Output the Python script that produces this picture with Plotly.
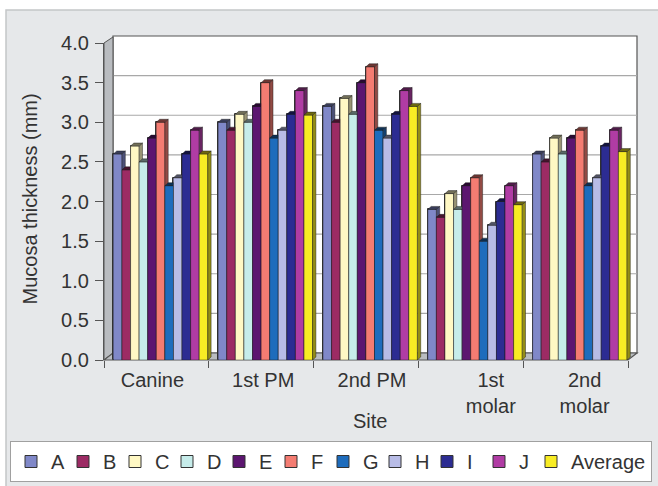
import plotly.graph_objects as go

# ---------------- data ----------------
SITES = ["Canine", "1st PM", "2nd PM", "1st<br>molar", "2nd<br>molar"]
SERIES = ["A", "B", "C", "D", "E", "F", "G", "H", "I", "J", "Average"]
A = [2.6, 3.0, 3.2, 1.9, 2.6]
B = [2.4, 2.9, 3.0, 1.8, 2.5]
C = [2.7, 3.1, 3.3, 2.1, 2.8]
D = [2.5, 3.0, 3.1, 1.9, 2.6]
E = [2.8, 3.2, 3.5, 2.2, 2.8]
F = [3.0, 3.5, 3.7, 2.3, 2.9]
G = [2.2, 2.8, 2.9, 1.5, 2.2]
H = [2.3, 2.9, 2.8, 1.7, 2.3]
I = [2.6, 3.1, 3.1, 2.0, 2.7]
J = [2.9, 3.4, 3.4, 2.2, 2.9]
AVERAGE = [2.6, 3.09, 3.2, 1.96, 2.63]
VALUES = [A, B, C, D, E, F, G, H, I, J, AVERAGE]
Y_TICKS = [0.0, 0.5, 1.0, 1.5, 2.0, 2.5, 3.0, 3.5, 4.0]

COLORS = ["#8088c8", "#9c2b64", "#fff8c4", "#c6ecea", "#5c1670", "#f47c72",
          "#1e6cbc", "#b8bce6", "#2c2c92", "#b03ca4", "#f8ec24"]

# ---------------- layout geometry (pixels) ----------------
W_FIG, H_FIG = 658, 486
ML, MR, MT, MB = 104, 6, 43, 126
PW = W_FIG - ML - MR             # full plot-area width
PH = H_FIG - MT - MB
FRONT_W = 524                    # width of the category axis (front edge)
N_CAT = len(SITES)
PX_PER_X = FRONT_W / N_CAT
X_RANGE = [-0.5, -0.5 + PW / PX_PER_X]
Y_RANGE = [0, 4]
PX_PER_Y = PH / (Y_RANGE[1] - Y_RANGE[0])

BAR_W = 8.58 / PX_PER_X          # bar width in category units
GROUP_START = 0.09               # first bar offset from category edge
DX = 3.3 / PX_PER_X              # bar depth (x)
DY = 3.0 / PX_PER_Y              # bar depth (y)
WALL_DX, WALL_DY = 9, 7          # chart depth in px
LABEL_SHIFT_PX = [-4, 2, 6, 20, 9]
LEGEND_ENTRY_W = 7
LEGEND_LAST_W = 75

FONT = "Liberation Sans, Arial, sans-serif"
TXT = "#333333"
AX = "#555555"


def px(x):
    return (x - ML) / PW


def py(y):
    return (H_FIG - MB - y) / PH


def shade(hex_color, f):
    h = hex_color.lstrip("#")
    r, g, b = (int(h[k:k + 2], 16) for k in (0, 2, 4))
    return "rgb(%d,%d,%d)" % (r * f, g * f, b * f)


fig = go.Figure()

# legend carriers (real bars, covered by the 3D faces below)
for j, (name, vals) in enumerate(zip(SERIES, VALUES)):
    xs = [i - 0.5 + GROUP_START + (j + 0.5) * BAR_W for i in range(N_CAT)]
    fig.add_trace(go.Bar(
        x=xs, y=vals, width=BAR_W, name=name,
        marker=dict(color=COLORS[j], line=dict(color="#333333", width=1)),
        legendwidth=(LEGEND_LAST_W if j == len(SERIES) - 1 else LEGEND_ENTRY_W),
        hoverinfo="skip"))

# 3D faces
for j, (name, vals) in enumerate(zip(SERIES, VALUES)):
    fx, fy, cx, cy, sx, sy = [], [], [], [], [], []
    for i, v in enumerate(vals):
        L = i - 0.5 + GROUP_START + j * BAR_W
        R = L + BAR_W
        fx += [L, L, R, R, L, None]
        fy += [0, v, v, 0, 0, None]
        cx += [L, L + DX, R + DX, R, L, None]
        cy += [v, v + DY, v + DY, v, v, None]
        sx += [R, R + DX, R + DX, R, R, None]
        sy += [0, DY, v + DY, v, 0, None]
    for xx, yy, col in ((fx, fy, COLORS[j]),
                        (sx, sy, shade(COLORS[j], 0.6)),
                        (cx, cy, shade(COLORS[j], 0.45))):
        fig.add_trace(go.Scatter(
            x=xx, y=yy, mode="lines", fill="toself", fillcolor=col,
            line=dict(color="rgba(30,30,30,0.75)", width=0.6),
            showlegend=False, hoverinfo="skip", cliponaxis=False))

# ---------------- decoration shapes ----------------
x_front0, x_front1 = ML, ML + FRONT_W
y_front = H_FIG - MB
x_back0, x_back1 = x_front0 + WALL_DX, x_front1 + WALL_DX
y_back0 = y_front - WALL_DY

shapes = []
# outer frame
shapes.append(dict(type="rect", xref="paper", yref="paper", layer="below",
                   x0=px(6), x1=px(720), y0=py(10), y1=py(520),
                   fillcolor="#e6e8ea", line=dict(color="#c4c6c8", width=1.5)))
# back wall
shapes.append(dict(type="rect", xref="paper", yref="paper", layer="below",
                   x0=px(x_back0), x1=px(x_back1),
                   y0=py(y_back0), y1=py(y_back0 - 4 * PX_PER_Y),
                   fillcolor="white", line=dict(color="#555555", width=1.2)))
for t in Y_TICKS[1:-1]:
    yy = y_back0 - t * PX_PER_Y
    shapes.append(dict(type="line", xref="paper", yref="paper", layer="below",
                       x0=px(x_back0), x1=px(x_back1), y0=py(yy), y1=py(yy),
                       line=dict(color="#a8a8a8", width=1.2)))
# left wall
shapes.append(dict(type="path", xref="paper", yref="paper", layer="below",
                   path="M %f,%f L %f,%f L %f,%f L %f,%f Z" % (
                       px(x_front0), py(y_front), px(x_front0), py(MT),
                       px(x_back0), py(MT - WALL_DY + 1), px(x_back0), py(y_back0)),
                   fillcolor="#b9bcc0", line=dict(color="#555555", width=1)))
# floor (its front edge is the category axis line)
shapes.append(dict(type="path", xref="paper", yref="paper", layer="below",
                   path="M %f,%f L %f,%f L %f,%f L %f,%f Z" % (
                       px(x_front0), py(y_front), px(x_front1), py(y_front),
                       px(x_back1), py(y_back0), px(x_back0), py(y_back0)),
                   fillcolor="#b9bcc0", line=dict(color="#555555", width=1.2)))

annotations = [
    dict(text="Mucosa thickness (mm)", textangle=-90, xref="paper", yref="paper",
         x=px(29.5), y=py(199), xanchor="center", yanchor="middle", showarrow=False,
         font=dict(family=FONT, size=20, color=TXT)),
    dict(text="Site", xref="paper", yref="paper", x=px(370), y=py(421),
         xanchor="center", yanchor="middle", showarrow=False,
         font=dict(family=FONT, size=20, color=TXT)),
]

fig.update_layout(
    width=W_FIG, height=H_FIG, autosize=False,
    margin=dict(l=ML, r=MR, t=MT, b=MB, pad=0, autoexpand=False),
    paper_bgcolor="white", plot_bgcolor="rgba(0,0,0,0)",
    barmode="overlay", bargap=0,
    font=dict(family=FONT, size=20, color=TXT),
    shapes=shapes, annotations=annotations,
    xaxis=dict(range=X_RANGE, showgrid=False, zeroline=False,
               tickmode="array",
               tickvals=[i + LABEL_SHIFT_PX[i] / PX_PER_X for i in range(N_CAT)],
               ticktext=SITES, ticks="", ticklabelstandoff=6,
               showline=False,
               minor=dict(tickmode="array",
                          tickvals=[i - 0.5 for i in range(N_CAT + 1)],
                          ticks="outside", ticklen=7, tickcolor=AX, tickwidth=1.2,
                          showgrid=False),
               tickfont=dict(family=FONT, size=20, color=TXT), fixedrange=True),
    yaxis=dict(range=Y_RANGE, tickmode="array", tickvals=Y_TICKS,
               ticktext=["%.1f" % t for t in Y_TICKS],
               ticks="outside", ticklen=8, tickcolor=AX, tickwidth=1.2,
               ticklabelstandoff=2,
               showline=True, linecolor=AX, linewidth=1.2,
               showgrid=False, zeroline=False,
               tickfont=dict(family=FONT, size=20, color=TXT), fixedrange=True),
    legend=dict(orientation="h", xref="paper", yref="paper",
                x=px(10), y=py(441), xanchor="left", yanchor="top",
                bgcolor="white", bordercolor="#a0a0a0", borderwidth=1,
                itemwidth=30, font=dict(family=FONT, size=20, color=TXT),
                traceorder="normal"),
    showlegend=True,
)

fig.write_html("out.html")
